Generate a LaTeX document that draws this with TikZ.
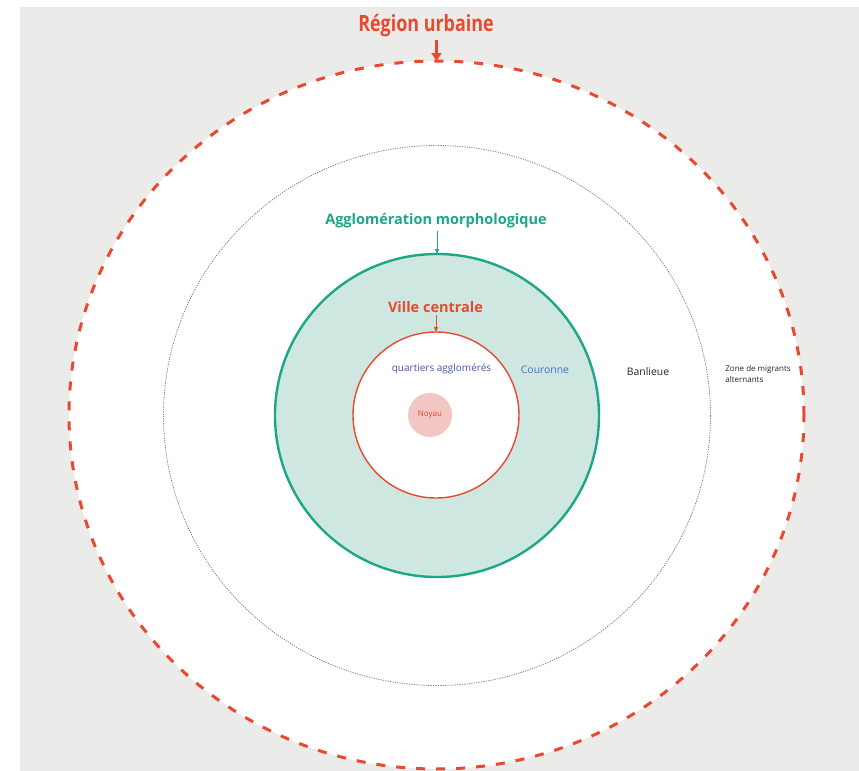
\documentclass[tikz,border=0pt]{standalone}
\usepackage{fontspec}
\setmainfont{Open Sans}
\newfontfamily\condfont[FakeStretch=0.8]{Open Sans}
\usetikzlibrary{shapes.geometric,arrows.meta}
\definecolor{fond}{HTML}{EBEBEA}
\definecolor{rouge}{HTML}{E9492F}
\definecolor{vert}{HTML}{1CA886}
\definecolor{vertclair}{HTML}{CFE7E1}
\definecolor{rose}{HTML}{F2C6C2}
\definecolor{bleu}{HTML}{4A55A8}

\begin{document}
\begin{tikzpicture}[x=0.5pt, y=-0.5pt,
  zone/.style = {ellipse, inner sep=0pt, outer sep=0pt},
  titre/.style = {font=\bfseries, inner sep=1pt},
  legende/.style = {inner sep=1pt, font=\fontsize{5.2}{6.2}\selectfont}]
  \useasboundingbox (0,0) rectangle (859,771);
  \fill[fond] (20,7) rectangle (859,771);
  \node[zone, fill=white, draw=rouge, line width=1.5pt,
    dash pattern=on 4.5pt off 5.5pt,
    minimum width=367.5pt, minimum height=354pt] (region) at (436.5,415) {};
  \node[zone, draw=gray, line width=0.4pt, dash pattern=on 0.6pt off 0.6pt,
    minimum width=273.5pt, minimum height=270pt] (banlieue) at (437,415.5) {};
  \node[zone, fill=vertclair, draw=vert, line width=1.2pt,
    minimum width=162pt, minimum height=161.5pt] (agglo) at (437,415.5) {};
  \node[zone, fill=white, draw=rouge, line width=0.7pt,
    minimum width=83pt, minimum height=83pt] (ville) at (436,415) {};
  \node[circle, fill=rose, inner sep=0pt, minimum size=22pt, text=rouge,
    font=\fontsize{4}{4.5}\selectfont] (noyau) at (430,415) {Noyau};

  \node[titre, text=rouge, font=\condfont\bfseries\fontsize{11.2}{13}\selectfont] (tregion) at (426,26) {Région urbaine};
  \node[titre, text=vert, font=\bfseries\fontsize{7.25}{8.7}\selectfont] (tagglo) at (436,221) {Agglomération morphologique};
  \node[titre, text=rouge, font=\bfseries\fontsize{7.25}{8.7}\selectfont] (tville) at (435.5,307) {Ville centrale};

  \draw[rouge, line width=1.3pt, -{Triangle[length=4pt,width=5pt]}] (region.north |- tregion.south) -- (region.north);
  \draw[vert, line width=0.4pt, -{Triangle[length=2.5pt,width=2pt]}] (agglo.north |- tagglo.south) -- (agglo.north);
  \draw[rouge, line width=0.4pt, -{Triangle[length=2.5pt,width=2pt]}] (ville.north |- tville.south) -- (ville.north);

  \node[legende, text=bleu, font=\fontsize{5}{6}\selectfont] (quartiers) at (441.5,369) {quartiers agglomérés};
  \node[legende, text=bleu!80!cyan] (couronne) at (545,370) {Couronne};
  \node[legende, text=black!85] (tbanlieue) at (648,372) {Banlieue};
  \node[legende, text=black!85, align=left, anchor=north west,
    font=\fontsize{4}{5.5}\selectfont] (migrants) at (723,363) {Zone de migrants\\alternants};
\end{tikzpicture}
\end{document}
